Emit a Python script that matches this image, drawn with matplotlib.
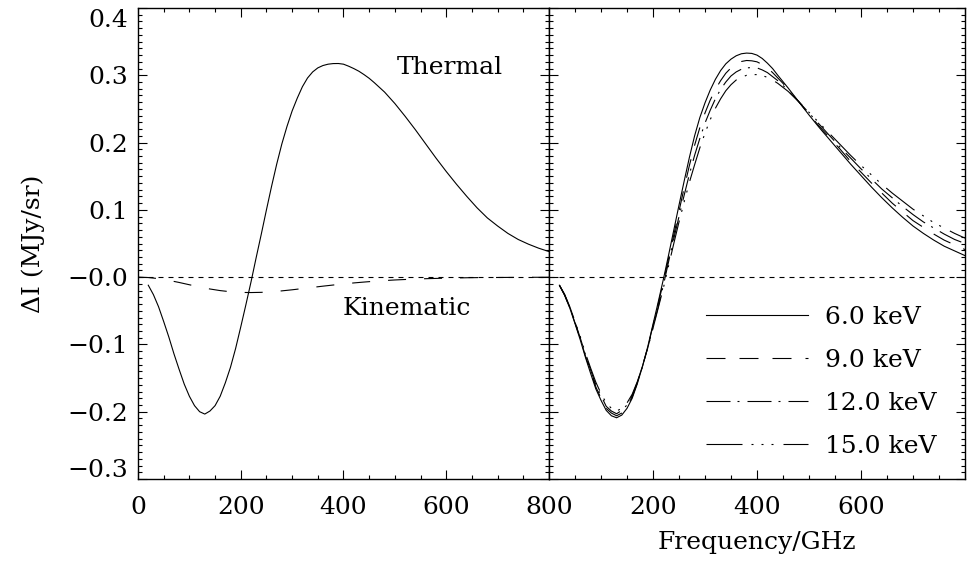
import matplotlib
matplotlib.use("Agg")
import matplotlib.pyplot as plt
from matplotlib.ticker import MultipleLocator, FixedLocator, FixedFormatter

plt.rcParams['font.family'] = ['DejaVu Serif']
plt.rcParams['lines.scale_dashes'] = False

# ---- data -------------------------------------------------------------
freq = [20, 30, 40, 50, 60, 70, 80, 90, 100, 110,
        120, 130, 140, 150, 160, 170, 180, 190, 200, 210,
        220, 230, 240, 250, 260, 270, 280, 290, 300, 310,
        320, 330, 340, 350, 360, 370, 380, 390, 400, 410,
        420, 430, 440, 450, 460, 470, 480, 490, 500,
        520, 540, 560, 580, 600, 620, 640, 660, 680, 700,
        720, 740, 760, 780, 800]

thermal = [-0.012, -0.026, -0.044, -0.066, -0.089, -0.114, -0.137, -0.159, -0.177, -0.191,
           -0.200, -0.2035, -0.199, -0.191, -0.177, -0.157, -0.134, -0.106, -0.074, -0.041,
           -0.007, 0.029, 0.064, 0.100, 0.135, 0.168, 0.198, 0.224, 0.247, 0.266,
           0.283, 0.296, 0.305, 0.311, 0.3145, 0.3165, 0.3174, 0.3175, 0.3165, 0.3135,
           0.310, 0.306, 0.301, 0.2955, 0.289, 0.282, 0.275, 0.2665, 0.258,
           0.239, 0.219, 0.198, 0.177, 0.157, 0.138, 0.120, 0.103, 0.088, 0.076,
           0.065, 0.056, 0.049, 0.043, 0.038]

freq_kin = [0, 20, 40, 60, 80, 100, 120, 140, 160, 180, 200,
            220, 240, 260, 280, 300, 320, 340, 360, 380, 400,
            420, 440, 460, 480, 500, 520, 540, 560, 580, 600,
            620, 640, 660, 680, 700, 720, 740, 760, 780, 800]

kinematic = [0.0, -0.0006, -0.0022, -0.0048, -0.0079, -0.0113, -0.0147, -0.0176, -0.0200, -0.0217, -0.0227,
             -0.0229, -0.0226, -0.0217, -0.0204, -0.0188, -0.0170, -0.0152, -0.0134, -0.0117, -0.0101,
             -0.0086, -0.0073, -0.0061, -0.0051, -0.0042, -0.0035, -0.0028, -0.0023, -0.0019, -0.0015,
             -0.0012, -0.0009, -0.0007, -0.0006, -0.0005, -0.0004, -0.0003, -0.0002, -0.0002, -0.0001]

kev_6 = [-0.012, -0.027, -0.046, -0.069, -0.093, -0.119, -0.143, -0.166, -0.183, -0.198,
         -0.206, -0.209, -0.205, -0.195, -0.180, -0.158, -0.132, -0.103, -0.070, -0.037,
         -0.003, 0.033, 0.070, 0.107, 0.143, 0.178, 0.210, 0.237, 0.259, 0.278,
         0.294, 0.307, 0.317, 0.324, 0.329, 0.332, 0.333, 0.3325, 0.330, 0.325,
         0.318, 0.310, 0.300, 0.2905, 0.281, 0.271, 0.261, 0.251, 0.241,
         0.222, 0.204, 0.186, 0.168, 0.151, 0.134, 0.118, 0.103, 0.089, 0.076,
         0.065, 0.055, 0.046, 0.039, 0.032]

kev_9 = [-0.012, -0.0265, -0.045, -0.068, -0.091, -0.117, -0.140, -0.163, -0.180, -0.195,
         -0.202, -0.206, -0.202, -0.192, -0.178, -0.157, -0.132, -0.104, -0.072, -0.040,
         -0.007, 0.028, 0.063, 0.098, 0.133, 0.166, 0.196, 0.222, 0.244, 0.263,
         0.279, 0.292, 0.303, 0.311, 0.317, 0.3205, 0.322, 0.3215, 0.320, 0.316,
         0.311, 0.304, 0.296, 0.288, 0.279, 0.270, 0.261, 0.2515, 0.242,
         0.224, 0.207, 0.190, 0.172, 0.156, 0.140, 0.125, 0.110, 0.097, 0.084,
         0.074, 0.064, 0.055, 0.048, 0.041]

kev_12 = [-0.012, -0.026, -0.045, -0.067, -0.090, -0.115, -0.138, -0.160, -0.176, -0.192,
          -0.199, -0.203, -0.198, -0.190, -0.176, -0.156, -0.132, -0.105, -0.074, -0.044,
          -0.012, 0.023, 0.057, 0.090, 0.122, 0.153, 0.181, 0.206, 0.229, 0.248,
          0.265, 0.279, 0.290, 0.299, 0.305, 0.309, 0.311, 0.3115, 0.311, 0.308,
          0.304, 0.298, 0.292, 0.285, 0.277, 0.269, 0.261, 0.2525, 0.244,
          0.227, 0.210, 0.193, 0.177, 0.161, 0.146, 0.131, 0.118, 0.105, 0.093,
          0.082, 0.073, 0.064, 0.056, 0.050]

kev_15 = [-0.012, -0.0255, -0.044, -0.066, -0.088, -0.113, -0.135, -0.156, -0.173, -0.187,
          -0.195, -0.199, -0.195, -0.187, -0.174, -0.155, -0.132, -0.105, -0.076, -0.046,
          -0.016, 0.017, 0.050, 0.082, 0.112, 0.141, 0.167, 0.192, 0.214, 0.234,
          0.251, 0.265, 0.277, 0.286, 0.293, 0.297, 0.300, 0.301, 0.301, 0.2995,
          0.297, 0.293, 0.288, 0.282, 0.276, 0.2685, 0.261, 0.253, 0.245,
          0.229, 0.213, 0.197, 0.181, 0.166, 0.152, 0.138, 0.125, 0.113, 0.101,
          0.091, 0.081, 0.073, 0.065, 0.058]

temp_labels = ['6.0 keV', '9.0 keV', '12.0 keV', '15.0 keV']

x_ticks = [0, 200, 400, 600, 800]
y_ticks = [-0.3, -0.2, -0.1, 0.0, 0.1, 0.2, 0.3, 0.4]
y_tick_labels = ['\u22120.3', '\u22120.2', '\u22120.1', '\u22120.0', '0.1', '0.2', '0.3', '0.4']

# ---- styles -----------------------------------------------------------
PX = 0.72  # points per pixel at 100 dpi
LW = 0.8
FS = 18
dot_zero = (0, (5 * PX, 5 * PX))
long_dash = (0, (18 * PX, 18 * PX))
styles = [
    '-',
    (0, (19 * PX, 14 * PX)),
    (0, (24 * PX, 7 * PX, 2 * PX, 8 * PX)),
    (0, (36 * PX, 9 * PX, 2 * PX, 8 * PX, 2 * PX, 8 * PX, 2 * PX, 10 * PX)),
]

W, H = 970, 561
fig = plt.figure(figsize=(W / 100, H / 100), dpi=100)
ax_l = fig.add_axes([138 / W, 82 / H, 411 / W, 471 / H])
ax_r = fig.add_axes([549 / W, 82 / H, 416 / W, 471 / H])


def style_axes(ax):
    ax.set_xlim(0, 800)
    ax.set_ylim(-0.3, 0.4)
    ax.xaxis.set_major_locator(FixedLocator(x_ticks))
    ax.xaxis.set_minor_locator(MultipleLocator(50))
    ax.yaxis.set_major_locator(FixedLocator(y_ticks))
    ax.yaxis.set_minor_locator(MultipleLocator(0.01))
    ax.tick_params(which='both', direction='in', top=True, right=True,
                   width=0.8, labelsize=FS)
    ax.tick_params(which='major', length=6.5)
    ax.tick_params(which='minor', length=3.2)
    ax.tick_params(axis='x', pad=12)
    ax.tick_params(axis='y', pad=7)
    for s in ax.spines.values():
        s.set_linewidth(1.0)
    ax.axhline(0.0, color='black', lw=LW, ls=dot_zero)


style_axes(ax_l)
style_axes(ax_r)

# left panel: thermal and kinematic components
ax_l.plot(freq, thermal, color='black', lw=LW)
ax_l.plot(freq_kin, kinematic, color='black', lw=LW, ls=long_dash)
ax_l.text(504, 0.312, 'Thermal', fontsize=FS, ha='left', va='center')
ax_l.text(399, -0.047, 'Kinematic', fontsize=FS, ha='left', va='center')

ax_l.yaxis.set_major_formatter(FixedFormatter(
    [''] + y_tick_labels[1:-1] + ['']))
# end labels nudged inside the frame
ax_l.annotate(y_tick_labels[0], xy=(0, y_ticks[0]), xycoords=('axes fraction', 'data'),
              xytext=(-7, 6), textcoords='offset points', ha='right', va='center', fontsize=FS)
ax_l.annotate(y_tick_labels[-1], xy=(0, y_ticks[-1]), xycoords=('axes fraction', 'data'),
              xytext=(-7, -9), textcoords='offset points', ha='right', va='center', fontsize=FS)
ax_l.set_ylabel('\u0394I (MJy/sr)', fontsize=FS)
ax_l.yaxis.set_label_coords(-0.226, 0.5)

# right panel: temperature dependence
for vals, ls, lab in zip([kev_6, kev_9, kev_12, kev_15], styles, temp_labels):
    ax_r.plot(freq, vals, color='black', lw=LW, ls=ls, label=lab)
ax_r.set_yticklabels([])
ax_r.xaxis.set_major_formatter(FixedFormatter(['', '200', '400', '600', '']))
ax_r.set_xlabel('Frequency/GHz', fontsize=FS)
ax_r.xaxis.set_label_coords(0.5, -0.110)

leg = ax_r.legend(loc='upper left', bbox_to_anchor=(0.377, 0.367), frameon=False,
                  fontsize=FS, handlelength=4.08, handletextpad=0.68,
                  labelspacing=0.8, borderpad=0, borderaxespad=0)

fig.savefig('out.png', dpi=100)
